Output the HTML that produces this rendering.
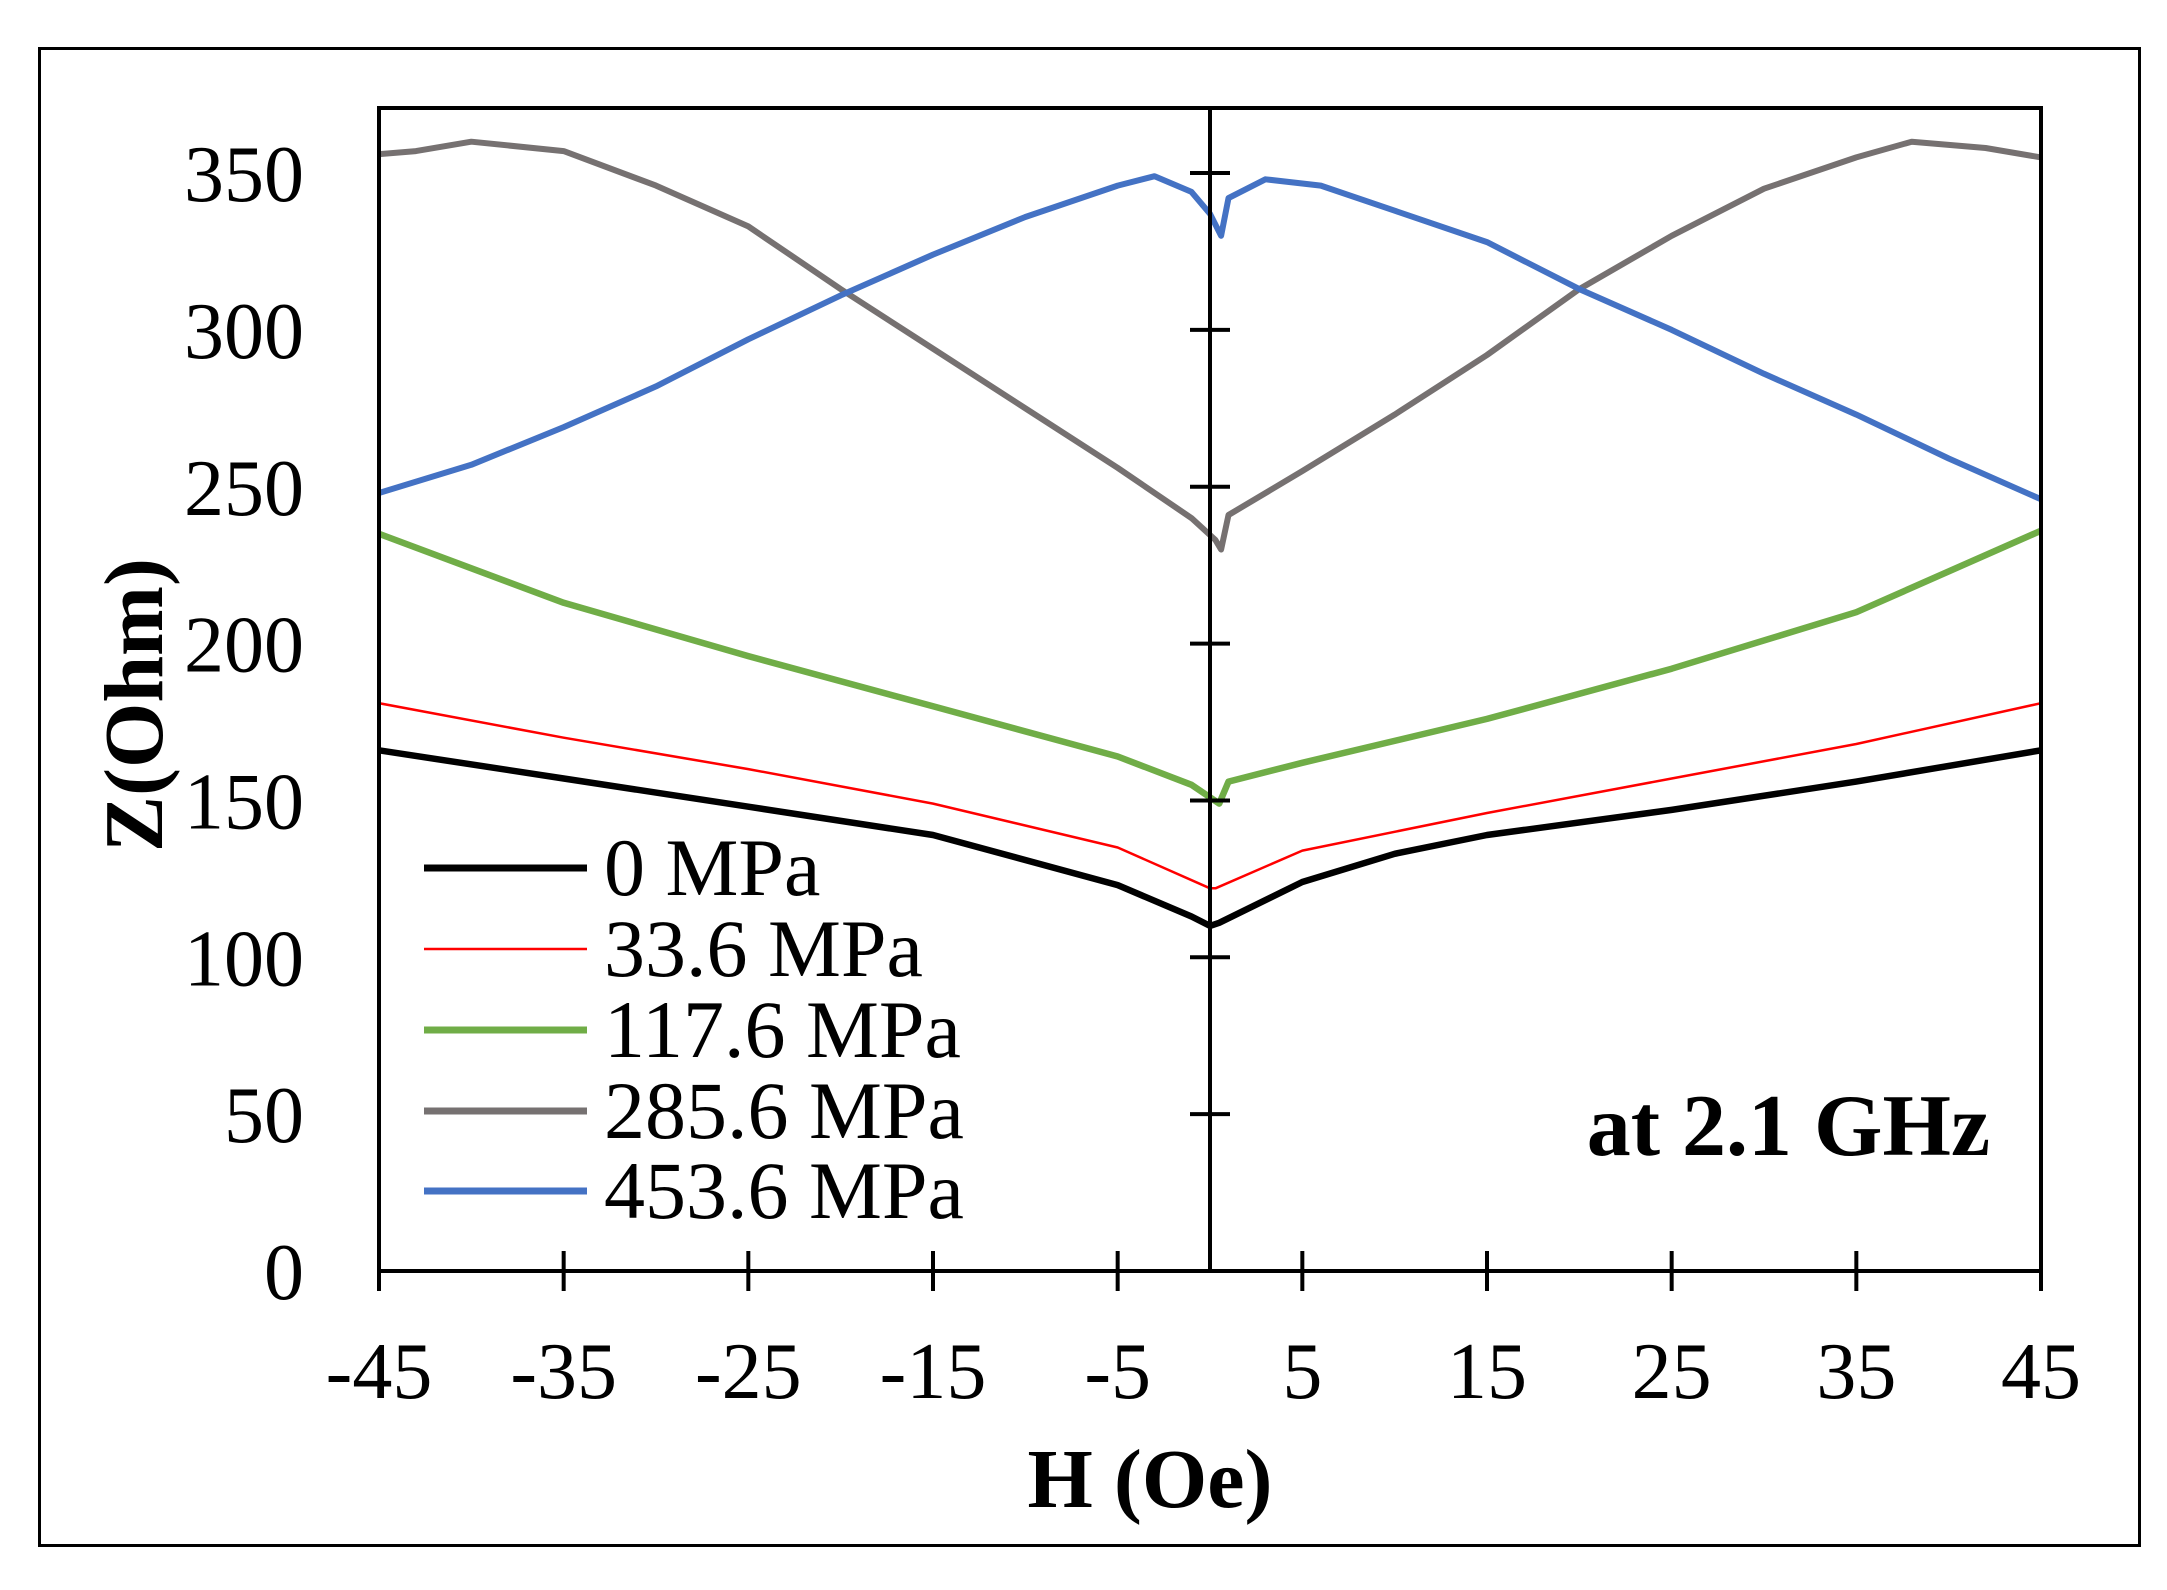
<!DOCTYPE html>
<html><head><meta charset="utf-8"><style>
html,body{margin:0;padding:0;background:#fff;}
svg{display:block;}
</style></head><body>
<svg id="s" width="2167" height="1590" viewBox="0 0 2167 1590" xmlns="http://www.w3.org/2000/svg">
<rect x="0" y="0" width="2167" height="1590" fill="#fff"/>
<rect x="39.5" y="48.5" width="2100" height="1497" fill="none" stroke="#000" stroke-width="3"/>
<g id="curves" fill="none" stroke-linejoin="round"></g>
<g stroke="#000" stroke-width="4" fill="none">
<rect x="379" y="108" width="1662" height="1163"/>
<line x1="1210" y1="108" x2="1210" y2="1271"/>
<g id="ticks"></g>
</g>
<g id="labels" font-family="Liberation Serif, serif" font-size="80" fill="#000"></g>
<text x="0" y="0" transform="translate(162,705) rotate(-90)" text-anchor="middle" font-family="Liberation Serif, serif" font-weight="bold" font-size="84">Z(Ohm)</text>
<text x="1150" y="1507" text-anchor="middle" font-family="Liberation Serif, serif" font-weight="bold" font-size="84">H (Oe)</text>
<text x="1990" y="1155" text-anchor="end" font-family="Liberation Serif, serif" font-weight="bold" font-size="88">at 2.1 GHz</text>
<g font-family="Liberation Serif, serif" font-size="82" fill="#000">
<line x1="424" y1="868" x2="587" y2="868" stroke="#000" stroke-width="7"/><text x="604" y="895">0 MPa</text>
<line x1="424" y1="949" x2="587" y2="949" stroke="#ff0000" stroke-width="2.5"/><text x="604" y="976">33.6 MPa</text>
<line x1="424" y1="1030" x2="587" y2="1030" stroke="#70ad47" stroke-width="7"/><text x="604" y="1057">117.6 MPa</text>
<line x1="424" y1="1111" x2="587" y2="1111" stroke="#767171" stroke-width="7"/><text x="604" y="1138">285.6 MPa</text>
<line x1="424" y1="1191" x2="587" y2="1191" stroke="#4472c4" stroke-width="7"/><text x="604" y="1218">453.6 MPa</text>
</g>
</svg>
<script>
var NS="http://www.w3.org/2000/svg";
function X(h){return 379+(h+45)*(1662/90);}
function Y(z){return 1271-z*3.137;}
function el(t,a,p){var e=document.createElementNS(NS,t);for(var k in a)e.setAttribute(k,a[k]);p.appendChild(e);return e;}
var tk=document.getElementById('ticks'),lb=document.getElementById('labels');
for(var h=-45;h<=45;h+=10){el('line',{x1:X(h),y1:1251,x2:X(h),y2:1291},tk);
 var t=el('text',{x:X(h),y:1398,'text-anchor':'middle'},lb);t.textContent=h;}
for(var z=0;z<=350;z+=50){if(z>0)el('line',{x1:1190,y1:Y(z),x2:1230,y2:Y(z)},tk);
 var t=el('text',{x:304,y:Y(z)+28,'text-anchor':'end'},lb);t.textContent=z;}
var S=[
["#767171",6,[[-45,356],[-43,357],[-40,360],[-35,357],[-30,346],[-25,333],[-20,313],[-15,294],[-10,275],[-5,256],[-1,240],[0.3,233],[0.6,230],[1,241],[5,255],[10,273],[15,292],[20,313],[25,330],[30,345],[35,355],[38,360],[42,358],[45,355]]],
["#4472c4",6,[[-45,248],[-40,257],[-35,269],[-30,282],[-25,297],[-20,311],[-15,324],[-10,336],[-5,346],[-3,349],[-1,344],[0,337],[0.6,330],[1,342],[3,348],[6,346],[10,338],[15,328],[20,313],[25,300],[30,286],[35,273],[40,259],[45,246]]],
["#70ad47",6.5,[[-45,235],[-35,213],[-25,196],[-15,180],[-5,164],[-1,155],[0.5,149],[1,156],[5,162],[15,176],[25,192],[35,210],[45,236]]],
["#ff0000",2.5,[[-45,181],[-35,170],[-25,160],[-15,149],[-5,135],[0,122],[0.3,122],[5,134],[15,146],[25,157],[35,168],[45,181]]],
["#000000",6.5,[[-45,166],[-35,157],[-25,148],[-15,139],[-5,123],[-1,113],[0,110],[0.5,111],[5,124],[10,133],[15,139],[25,147],[35,156],[45,166]]]
];
var g=document.getElementById('curves');
S.forEach(function(s){var pts=s[2].map(function(p){return X(p[0]).toFixed(1)+","+Y(p[1]).toFixed(1)}).join(" ");
 el('polyline',{points:pts,stroke:s[0],'stroke-width':s[1]},g);});
</script>
</body></html>
